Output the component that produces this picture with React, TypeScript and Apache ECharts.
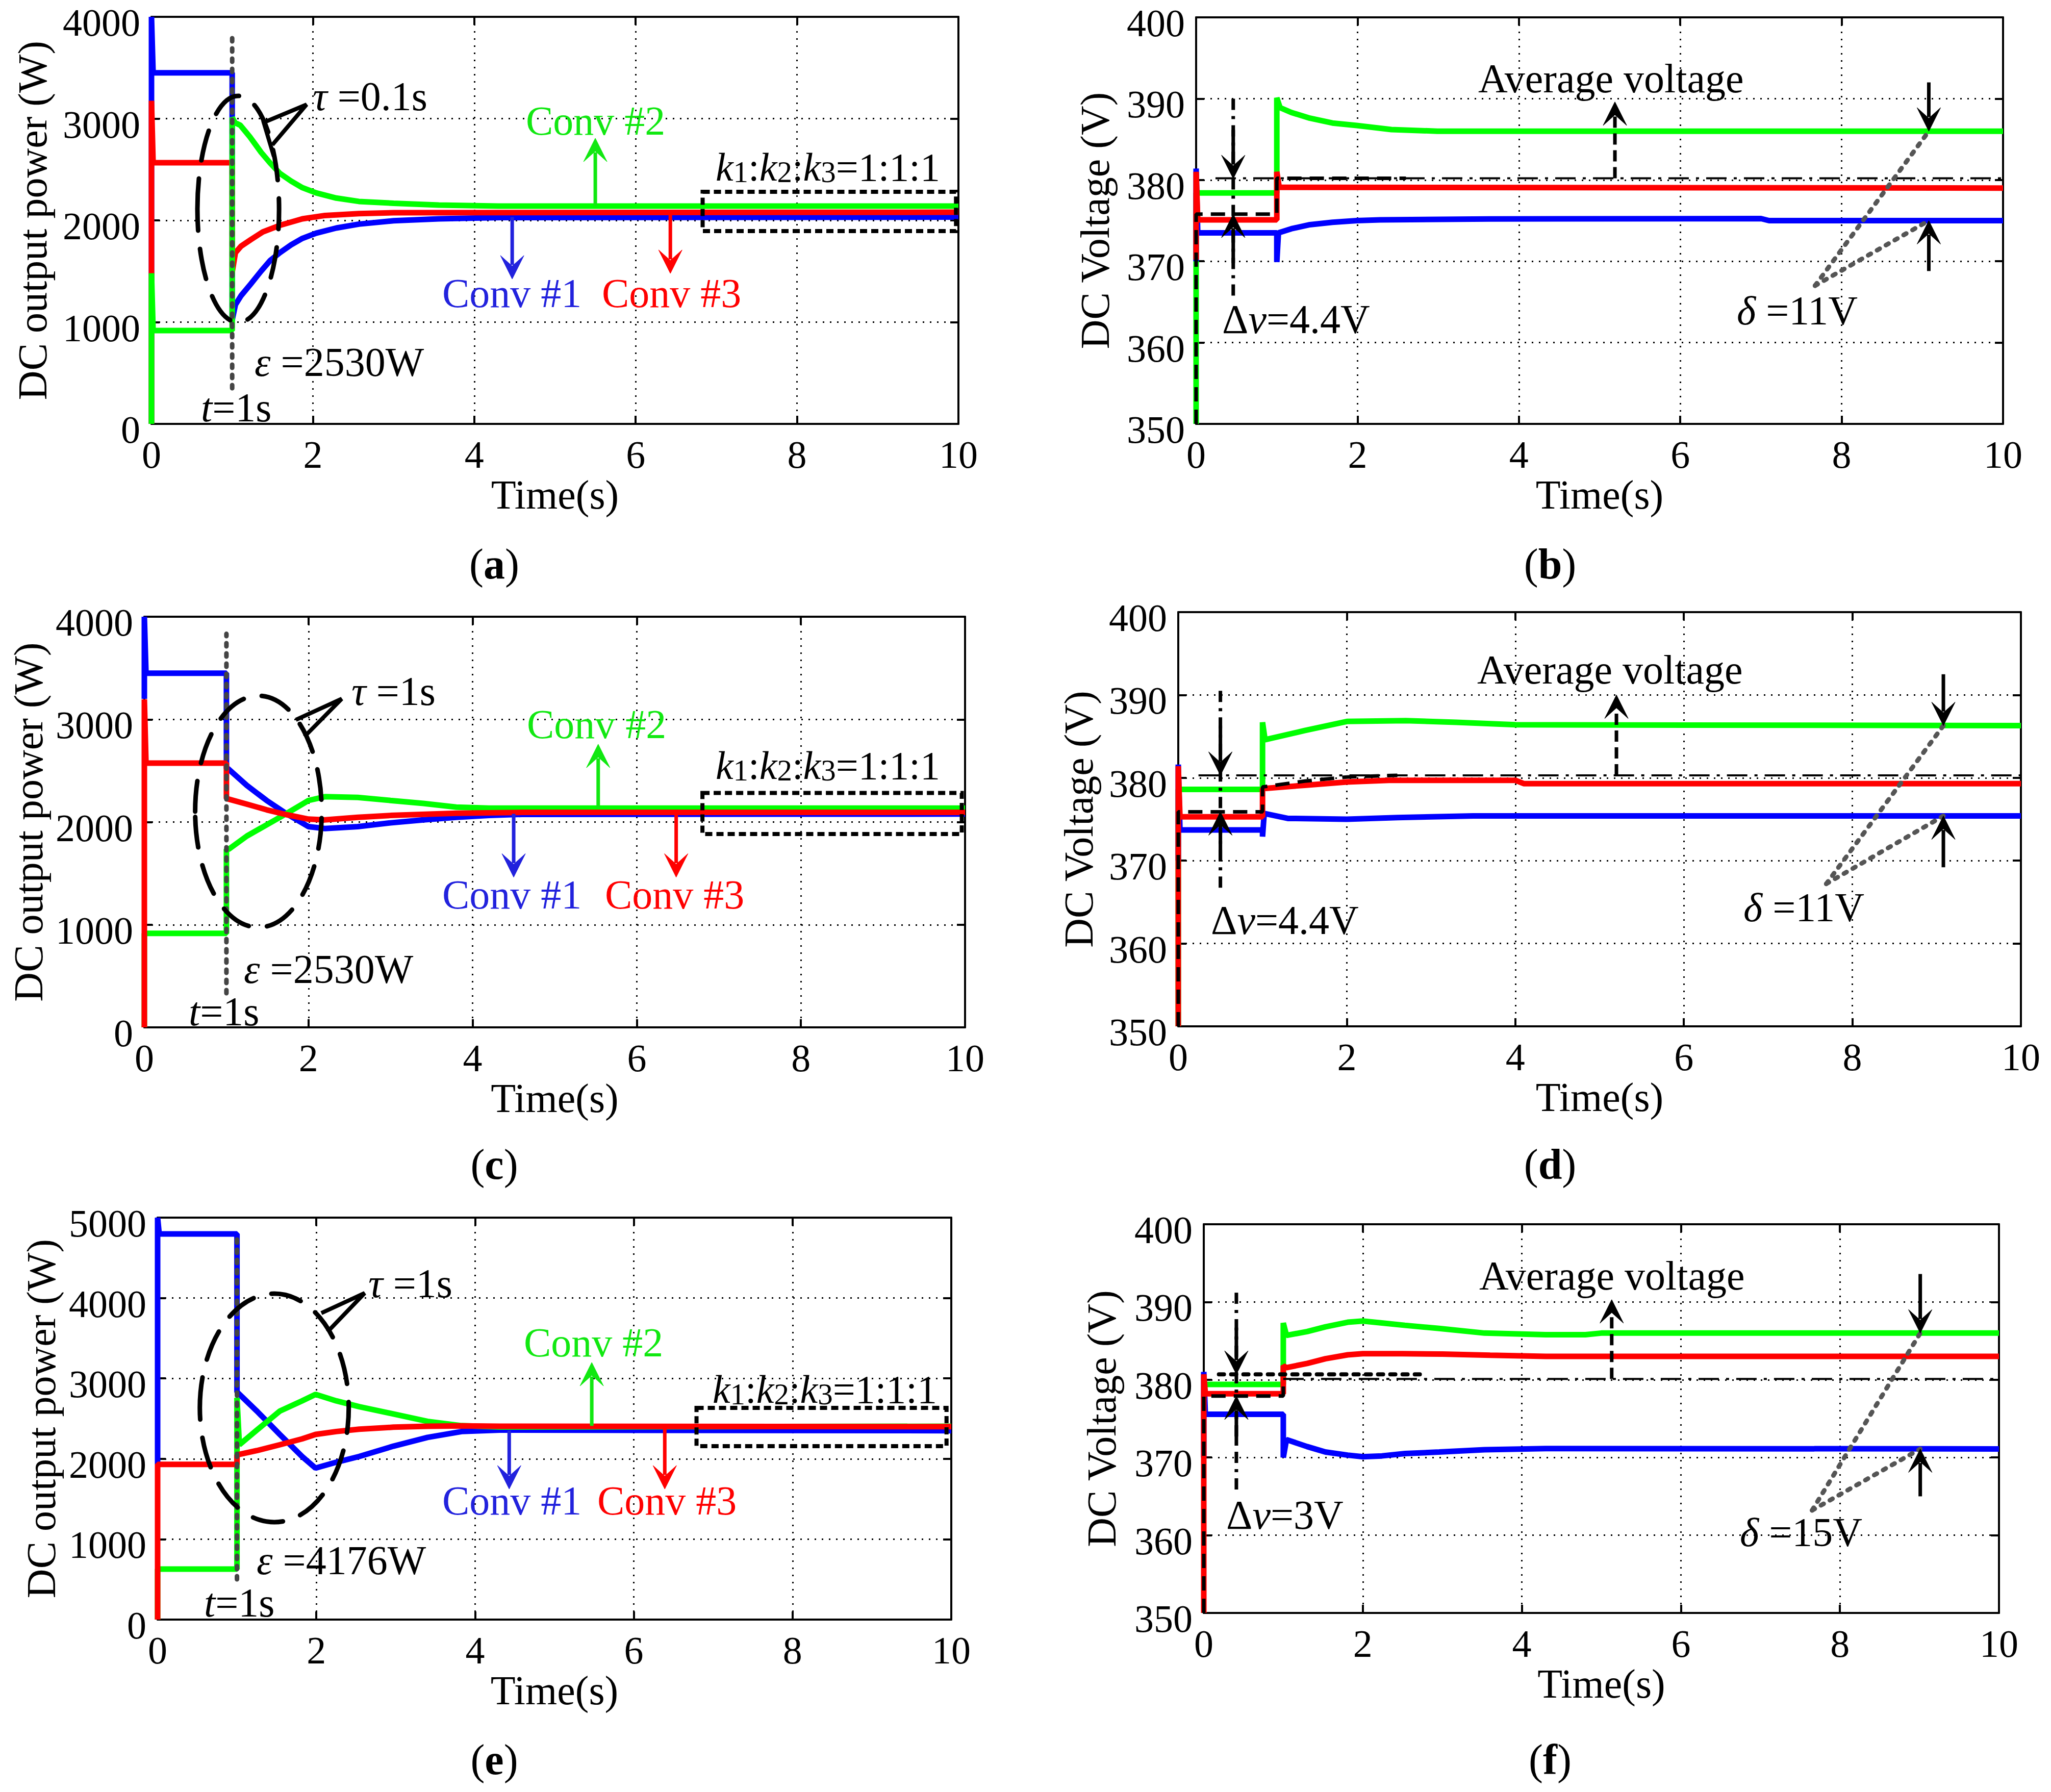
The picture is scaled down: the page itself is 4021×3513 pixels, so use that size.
import React, { useEffect, useRef } from "react";
import * as echarts from "echarts";

type Pt = [number, number];

// ---------- axis ranges: [min, max, step] ----------
const timeRange = [0, 10, 2];
const powerRangeA = [0, 4000, 1000];
const powerRangeE = [0, 5000, 1000];
const voltRange = [350, 400, 10];

// ---------- panel (a): DC output power, tau = 0.1 s ----------
const aConv1: Pt[] = [[0, 0], [0, 4000], [0.02, 3450], [1, 3450], [1, 1020], [1.04, 1171], [1.11, 1260], [1.23, 1375], [1.36, 1503], [1.47, 1605], [1.59, 1682], [1.73, 1759], [1.87, 1823], [2.04, 1874], [2.29, 1925], [2.57, 1963], [3.0, 1996], [3.56, 2015], [4.32, 2028], [10, 2032]];
const aConv2: Pt[] = [[0, 0], [0, 1480], [0.02, 917], [1, 917], [1, 3010], [1.035, 2960], [1.1, 2935], [1.22, 2820], [1.36, 2667], [1.47, 2564], [1.59, 2462], [1.73, 2386], [1.87, 2321], [2.04, 2270], [2.29, 2219], [2.57, 2186], [3.0, 2168], [3.56, 2150], [4.3, 2140], [10, 2140]];
const aConv3: Pt[] = [[0, 0], [0, 3175], [0.02, 2566], [1, 2566], [1, 1490], [1.04, 1682], [1.11, 1746], [1.23, 1810], [1.38, 1887], [1.59, 1951], [1.87, 2015], [2.15, 2048], [2.57, 2066], [3.0, 2075], [10, 2080]];

// ---------- panel (b): DC voltage, tau = 0.1 s ----------
const bConv1: Pt[] = [[0, 370], [0, 381.4], [0.02, 373.5], [1, 373.5], [1, 369.9], [1.02, 373.5], [1.18, 374.0], [1.41, 374.5], [1.69, 374.8], [1.99, 375.0], [2.28, 375.1], [3.63, 375.2], [7.0, 375.25], [7.1, 375.0], [10, 375.0]];
const bConv2: Pt[] = [[0, 350], [0, 378.4], [1, 378.4], [1, 390.1], [1.04, 388.9], [1.18, 388.3], [1.41, 387.6], [1.69, 387.0], [1.99, 386.7], [2.42, 386.2], [2.99, 386.0], [10, 386.0]];
const bConv3: Pt[] = [[0, 370.2], [0, 381], [0.02, 375.1], [1, 375.1], [1, 381], [1.03, 379.1], [10, 379.0]];
const bAvg: Pt[] = [[0, 350], [0, 375.8], [1, 375.8], [1, 380.2], [2.6, 380.2]];
const bRef: Pt[] = [[0.24, 380.2], [10, 380.2]];

// ---------- panel (c): DC output power, tau = 1 s ----------
const cConv1: Pt[] = [[0, 3200], [0, 4000], [0.02, 3450], [1, 3450], [1, 2520], [1.02, 2520], [1.25, 2356], [1.49, 2210], [1.73, 2082], [2.0, 1955], [2.2, 1937], [2.6, 1955], [3.0, 1992], [3.4, 2021], [3.8, 2046], [4.2, 2064], [4.6, 2075], [10, 2078]];
const cConv2: Pt[] = [[0, 0], [0, 916], [1, 916], [1, 1736], [1.03, 1736], [1.25, 1864], [1.49, 1973], [1.73, 2082], [2.0, 2210], [2.2, 2247], [2.6, 2240], [3.0, 2210], [3.4, 2181], [3.8, 2145], [4.2, 2135], [10, 2135]];
const cConv3: Pt[] = [[0, 0], [0, 3195], [0.02, 2574], [1, 2574], [1, 2229], [1.25, 2174], [1.49, 2119], [1.73, 2072], [2.0, 2028], [2.2, 2021], [2.6, 2046], [3.0, 2064], [3.8, 2086], [4.6, 2094], [10, 2095]];

// ---------- panel (d): DC voltage, tau = 1 s ----------
const dConv1: Pt[] = [[0, 370], [0, 381.6], [0.02, 373.7], [1, 373.7], [1, 372.9], [1.02, 375.7], [1.3, 375.1], [2.0, 375.0], [2.6, 375.2], [3.5, 375.4], [10, 375.4]];
const dConv2: Pt[] = [[0, 350], [0, 378.6], [1, 378.6], [1, 386.7], [1.03, 384.6], [1.5, 385.7], [2.0, 386.8], [2.7, 386.9], [3.3, 386.7], [4.0, 386.4], [10, 386.3]];
const dConv3: Pt[] = [[0, 350], [0, 381.4], [0.02, 375.3], [1, 375.3], [1, 378.7], [1.5, 379.1], [2.0, 379.5], [2.5, 379.7], [4.0, 379.7], [4.1, 379.3], [10, 379.3]];
const dAvg: Pt[] = [[0, 350], [0, 375.9], [1, 375.9], [1, 378.9], [1.5, 379.6], [2.0, 380.1], [2.6, 380.3]];
const dRef: Pt[] = [[0.24, 380.3], [10, 380.3]];

// ---------- panel (e): DC output power, higher load ----------
const eConv1: Pt[] = [[0, 1930], [0, 5000], [0.02, 4797], [1, 4797], [1, 2831], [1.25, 2594], [1.54, 2303], [1.82, 2029], [1.99, 1884], [2.25, 1957], [2.54, 2029], [2.97, 2157], [3.4, 2266], [3.83, 2339], [4.31, 2357], [10, 2350]];
const eConv2: Pt[] = [[0, 0], [0, 628], [1, 628], [1, 2758], [1.03, 2175], [1.25, 2357], [1.54, 2594], [1.82, 2721], [1.99, 2801], [2.25, 2721], [2.54, 2648], [2.97, 2558], [3.4, 2466], [3.83, 2412], [4.31, 2395], [10, 2405]];
const eConv3: Pt[] = [[0, 0], [0, 1930], [1, 1930], [1, 2048], [1.25, 2102], [1.54, 2175], [1.82, 2248], [1.99, 2303], [2.25, 2339], [2.54, 2368], [2.97, 2393], [3.4, 2405], [3.83, 2409], [4.31, 2405], [10, 2400]];

// ---------- panel (f): DC voltage, higher load ----------
const fConv1: Pt[] = [[0, 370], [0, 381], [0.02, 375.55], [1, 375.55], [1, 370.0], [1.04, 372.3], [1.3, 371.4], [1.53, 370.7], [1.81, 370.3], [2.0, 370.1], [2.24, 370.2], [2.53, 370.5], [2.96, 370.7], [3.53, 371.0], [4.3, 371.15], [10, 371.1]];
const fConv2: Pt[] = [[0, 379.4], [1, 379.4], [1, 387.3], [1.04, 385.7], [1.3, 386.2], [1.53, 386.8], [1.81, 387.4], [2.0, 387.55], [2.24, 387.3], [2.53, 387.0], [2.96, 386.6], [3.53, 386.0], [4.3, 385.8], [4.8, 385.8], [5.0, 386.0], [10, 386.0]];
const fConv3: Pt[] = [[0, 350], [0, 380.7], [0.02, 378.2], [1, 378.2], [1, 381.8], [1.04, 381.55], [1.3, 382.1], [1.53, 382.7], [1.81, 383.2], [2.0, 383.35], [2.5, 383.35], [3.0, 383.3], [3.6, 383.15], [4.3, 383.0], [10, 383.0]];
const fAvg: Pt[] = [[0, 350], [0, 377.9], [1, 377.9], [1, 380.1]];
const fRef: Pt[] = [[1, 380.1], [10, 380.1]];
const fDot: Pt[] = [[0.19, 380.7], [2.73, 380.7]];

// ---------- styling / layout ----------
const FONT = '"Liberation Serif", "Times New Roman", Times, serif';
const BLUE = "#0000ff";
const RED = "#ff0000";
const GREEN = "#00ff00";
const BLUE_T = "#2222dd";
const GREEN_T = "#11e811";

const GRIDS = [
  { left: 297, top: 33, width: 1582, height: 798 },
  { left: 2345, top: 34, width: 1582, height: 797 },
  { left: 283, top: 1209, width: 1609, height: 805 },
  { left: 2310, top: 1200, width: 1652, height: 812 },
  { left: 309, top: 2387, width: 1556, height: 788 },
  { left: 2360, top: 2400, width: 1559, height: 762 },
];
const Y_NAME_GAP = [193, 158, 187, 155, 188, 160];
const X_NAME_GAP = [79, 83, 77, 89, 82, 87];

type SeriesSpec = { data: Pt[]; color: string; width: number; dash?: any; cap?: string };

function buildOption() {
  const yRanges = [powerRangeA, voltRange, powerRangeA, voltRange, powerRangeE, voltRange];
  const yNames = ["DC output power (W)", "DC Voltage (V)", "DC output power (W)", "DC Voltage (V)", "DC output power (W)", "DC Voltage (V)"];
  const AVG = { color: "#000", width: 7, dash: [28, 16] };
  const REF = { color: "#000", width: 4, dash: [40, 14, 6, 14] };
  const panelSeries: SeriesSpec[][] = [
    [{ data: aConv1, color: BLUE, width: 11 }, { data: aConv3, color: RED, width: 11 }, { data: aConv2, color: GREEN, width: 11 }],
    [{ data: bConv2, color: GREEN, width: 11 }, { data: bConv1, color: BLUE, width: 11 }, { data: bConv3, color: RED, width: 11 }, { data: bRef, ...REF }, { data: bAvg, ...AVG }],
    [{ data: cConv1, color: BLUE, width: 11 }, { data: cConv2, color: GREEN, width: 11 }, { data: cConv3, color: RED, width: 11 }],
    [{ data: dConv2, color: GREEN, width: 11 }, { data: dConv1, color: BLUE, width: 11 }, { data: dConv3, color: RED, width: 11 }, { data: dRef, ...REF }, { data: dAvg, ...AVG }],
    [{ data: eConv1, color: BLUE, width: 11 }, { data: eConv2, color: GREEN, width: 11 }, { data: eConv3, color: RED, width: 11 }],
    [{ data: fConv2, color: GREEN, width: 11 }, { data: fConv1, color: BLUE, width: 11 }, { data: fConv3, color: RED, width: 11 }, { data: fRef, ...REF }, { data: fAvg, ...AVG }, { data: fDot, color: "#000", width: 8, dash: [10, 14], cap: "round" }],
  ];

  const grid: any[] = [];
  const xAxis: any[] = [];
  const yAxis: any[] = [];
  const series: any[] = [];
  const axisLine = { show: true, onZero: false, lineStyle: { color: "#000", width: 4 } };
  const tick = { show: true, inside: true, length: 16, lineStyle: { color: "#000", width: 4 } };
  const split = { show: true, lineStyle: { color: "#000", width: 3, type: [3, 11] } };
  const labelStyle = { color: "#000", fontFamily: FONT, fontSize: 76, formatter: (v: number) => String(v) };

  GRIDS.forEach((g, i) => {
    grid.push({ ...g, show: false, containLabel: false, outerBoundsMode: "none" });
    xAxis.push({
      type: "value", gridIndex: i, position: "bottom", min: timeRange[0], max: timeRange[1], interval: timeRange[2],
      axisLine, axisTick: tick, splitLine: split, axisLabel: { ...labelStyle, margin: 22 },
      name: "Time(s)", nameLocation: "middle", nameGap: X_NAME_GAP[i],
      nameTextStyle: { color: "#000", fontFamily: FONT, fontSize: 80 },
    });
    xAxis.push({
      type: "value", gridIndex: i, position: "top", min: timeRange[0], max: timeRange[1], interval: timeRange[2],
      axisLine, axisTick: tick, splitLine: { show: false }, axisLabel: { show: false },
    });
    const yr = yRanges[i];
    yAxis.push({
      type: "value", gridIndex: i, position: "left", min: yr[0], max: yr[1], interval: yr[2],
      axisLine, axisTick: tick, splitLine: split,
      axisLabel: {
        color: "#000", fontFamily: FONT, fontSize: 76, margin: 22,
        formatter: (v: number) => "{v|" + String(v) + "}",
        rich: { v: { color: "#000", fontFamily: FONT, fontSize: 76, padding: [22, 0, 0, 0] } },
      },
      name: yNames[i], nameLocation: "middle", nameRotate: 90, nameGap: Y_NAME_GAP[i],
      nameTextStyle: { color: "#000", fontFamily: FONT, fontSize: 80 },
    });
    yAxis.push({
      type: "value", gridIndex: i, position: "right", min: yr[0], max: yr[1], interval: yr[2],
      axisLine, axisTick: tick, splitLine: { show: false }, axisLabel: { show: false },
    });
    panelSeries[i].forEach((s, k) => {
      series.push({
        type: "line", xAxisIndex: 2 * i, yAxisIndex: 2 * i, data: s.data,
        showSymbol: false, symbol: "none", clip: false, silent: true, z: 3 + k,
        lineStyle: { color: s.color, width: s.width, type: s.dash || "solid", cap: s.cap || "butt" },
      });
    });
  });

  return {
    animation: false,
    backgroundColor: "#ffffff",
    textStyle: { fontFamily: FONT },
    grid, xAxis, yAxis, series,
  };
}

type PX = (g: number, t: number, v: number) => number[];

function richFor(fill: string, size: number) {
  return {
    i: { fontStyle: "italic", fontFamily: FONT, fontSize: size, fill },
    b: { fontWeight: "bold", fontFamily: FONT, fontSize: size, fill },
    s: { fontFamily: FONT, fontSize: Math.round(size * 0.75), fill, verticalAlign: "bottom" },
  };
}

function text(x: number, y: number, str: string, fill = "#000", align = "left", size = 80) {
  return {
    type: "text", z: 120, silent: true, x, y,
    style: {
      text: str, fill, fontSize: size, fontFamily: FONT,
      align, verticalAlign: "middle", textAlign: align, textVerticalAlign: "middle",
      rich: richFor(fill, size),
    },
  };
}

function seg(p1: number[], p2: number[], stroke: string, lineWidth: number, lineDash?: number[], lineCap = "butt") {
  return {
    type: "line", z: 100, silent: true,
    shape: { x1: p1[0], y1: p1[1], x2: p2[0], y2: p2[1] },
    style: { stroke, lineWidth, lineDash: lineDash || null, lineCap },
  };
}

const HEAD_W = 46;
const HEAD_L = 46;

function head(x: number, yTip: number, dir: number, fill: string) {
  const yb = yTip - dir * HEAD_L;
  const yn = yTip - dir * HEAD_L * 0.55;
  return {
    type: "polygon", z: 110, silent: true,
    shape: { points: [[x, yTip], [x - HEAD_W / 2, yb], [x, yn], [x + HEAD_W / 2, yb]] },
    style: { fill, stroke: fill, lineWidth: 1 },
  };
}

function arrow(px: PX, g: number, t: number, vFrom: number, vTip: number, color: string, dash?: number[]) {
  const a = px(g, t, vFrom);
  const b = px(g, t, vTip);
  const dir = b[1] > a[1] ? 1 : -1;
  const yn = b[1] - dir * HEAD_L * 0.6;
  return [seg([a[0], a[1]], [b[0], yn], color, 7, dash), head(b[0], b[1], dir, color)];
}

function ellipse(px: PX, g: number, t: number, v: number, dt: number, dv: number) {
  const c = px(g, t, v);
  const r1 = px(g, t + dt, v);
  const r2 = px(g, t, v + dv);
  return {
    type: "ellipse", z: 100, silent: true,
    shape: { cx: c[0], cy: c[1], rx: Math.abs(r1[0] - c[0]), ry: Math.abs(c[1] - r2[1]) },
    style: { fill: "none", stroke: "#000", lineWidth: 9, lineDash: [60, 36], lineCap: "round" },
  };
}

function poly(px: PX, g: number, pts: Pt[]) {
  return {
    type: "polyline", z: 100, silent: true,
    shape: { points: pts.map((p) => px(g, p[0], p[1])) },
    style: { fill: "none", stroke: "#000", lineWidth: 8, lineJoin: "miter" },
  };
}

function box(px: PX, g: number, t1: number, t2: number, v1: number, v2: number) {
  const a = px(g, t1, v2);
  const b = px(g, t2, v1);
  return {
    type: "rect", z: 100, silent: true,
    shape: { x: a[0], y: a[1], width: b[0] - a[0], height: b[1] - a[1] },
    style: { fill: "none", stroke: "#000", lineWidth: 8, lineDash: [14, 8] },
  };
}

const GRAY_DOT = [6, 14];

function powerPanel(px: PX, g: number, p: any) {
  const els: any[] = [];
  els.push(seg(px(g, 1, p.vLine[0]), px(g, 1, p.vLine[1]), "#444444", 9, GRAY_DOT, "round"));
  els.push(ellipse(px, g, p.ell[0], p.ell[1], p.ell[2], p.ell[3]));
  els.push(poly(px, g, p.callout));
  els.push(...arrow(px, g, p.a2[0], p.a2[1], p.a2[2], GREEN_T));
  els.push(...arrow(px, g, p.a1[0], p.a1[1], p.a1[2], BLUE_T));
  els.push(...arrow(px, g, p.a3[0], p.a3[1], p.a3[2], RED));
  els.push(box(px, g, p.box[0], p.box[1], p.box[2], p.box[3]));
  const T = p.txt;
  els.push(text(T.tau[0], T.tau[1], p.tauText));
  els.push(text(T.eps[0], T.eps[1], p.epsText));
  els.push(text(T.t1[0], T.t1[1], "{i|t}=1s"));
  els.push(text(T.c2[0], T.c2[1], "Conv #2", GREEN_T));
  els.push(text(T.c1[0], T.c1[1], "Conv #1", BLUE_T));
  els.push(text(T.c3[0], T.c3[1], "Conv #3", RED));
  els.push(text(T.k[0], T.k[1], "{i|k}{s|1}:{i|k}{s|2}:{i|k}{s|3}=1:1:1", "#000", "left", 78));
  els.push(text(T.lab[0], T.lab[1], p.lab, "#000", "center", 84));
  return els;
}

function voltPanel(px: PX, g: number, p: any) {
  const els: any[] = [];
  // average-voltage arrow
  els.push(...arrow(px, g, p.avgArrow[0], p.avgArrow[1], p.avgArrow[2], "#000", [22, 11]));
  // delta-v marker
  const [t, vTop, vBot, vHi, vLo] = p.dv;
  els.push(seg(px(g, t, vTop), px(g, t, vBot), "#000", 7, [22, 12, 6, 12]));
  els.push(...arrow(px, g, t, vHi + 6, vHi, "#000"));
  els.push(...arrow(px, g, t, vLo - 6, vLo, "#000"));
  // delta arrows
  const [td, dTop, dHi, dBot, dLo, tS, vS] = p.delta;
  els.push(...arrow(px, g, td, dTop, dHi, "#000"));
  els.push(...arrow(px, g, td, dBot, dLo, "#000"));
  els.push(seg(px(g, tS, vS), px(g, td, dHi), "#555555", 9, GRAY_DOT, "round"));
  els.push(seg(px(g, tS, vS), px(g, td, dLo), "#555555", 9, GRAY_DOT, "round"));
  const T = p.txt;
  els.push(text(T.avg[0], T.avg[1], "Average voltage"));
  els.push(text(T.dv[0], T.dv[1], p.dvText));
  els.push(text(T.delta[0], T.delta[1], p.deltaText));
  els.push(text(T.lab[0], T.lab[1], p.lab, "#000", "center", 84));
  return els;
}

function buildGraphics(px: PX) {
  const els: any[] = [];
  els.push(...powerPanel(px, 0, {
    vLine: [351, 3805], ell: [1.075, 2110, 0.506, 1113],
    callout: [[1.517, 2627], [1.391, 2962], [1.922, 3138], [1.498, 2742]],
    a2: [5.5, 2140, 2807], a1: [4.47, 2032, 1424], a3: [6.43, 2080, 1479],
    box: [6.83, 9.97, 1895, 2281],
    tauText: "{i|τ} =0.1s", epsText: "{i|ε} =2530W", lab: "({b|a})",
    txt: { tau: [613, 189], eps: [499, 710], t1: [394, 799], c2: [1031, 237], c1: [867, 575], c3: [1180, 575], k: [1403, 327], lab: [969, 1105] },
  }));
  els.push(...voltPanel(px, 1, {
    avgArrow: [5.19, 380.2, 389.6],
    dv: [0.46, 390, 365.2, 380.16, 375.8],
    delta: [9.08, 392, 386.0, 368.8, 375.0, 7.67, 367.0],
    dvText: "Δ{i|v}=4.4V", deltaText: "{i|δ} =11V", lab: "({b|b})",
    txt: { avg: [2898, 154], dv: [2396, 626], delta: [3405, 609], lab: [3039, 1105] },
  }));
  els.push(...powerPanel(px, 2, {
    vLine: [333, 3833], ell: [1.39, 2102, 0.771, 1128],
    callout: [[1.846, 2996], [2.405, 3200], [1.951, 2832]],
    a2: [5.53, 2135, 2758], a1: [4.5, 2080, 1463], a3: [6.48, 2095, 1463],
    box: [6.8, 9.96, 1883, 2283],
    tauText: "{i|τ} =1s", epsText: "{i|ε} =2530W", lab: "({b|c})",
    txt: { tau: [689, 1355], eps: [478, 1900], t1: [370, 1983], c2: [1033, 1420], c1: [867, 1754], c3: [1186, 1754], k: [1403, 1500], lab: [969, 2282] },
  }));
  els.push(...voltPanel(px, 3, {
    avgArrow: [5.2, 380.3, 390],
    dv: [0.5, 390.5, 366.0, 380.3, 375.9],
    delta: [9.08, 392.5, 386.3, 369.2, 375.4, 7.69, 367.2],
    dvText: "Δ{i|v}=4.4V", deltaText: "{i|δ} =11V", lab: "({b|d})",
    txt: { avg: [2896, 1313], dv: [2374, 1804], delta: [3418, 1779], lab: [3039, 2282] },
  }));
  els.push(...powerPanel(px, 4, {
    vLine: [501, 4797], ell: [1.47, 2633, 0.938, 1421],
    callout: [[2.063, 3813], [2.609, 4061], [2.14, 3579]],
    a2: [5.47, 2410, 3198], a1: [4.43, 2350, 1624], a3: [6.39, 2398, 1624],
    box: [6.79, 9.94, 2157, 2633],
    tauText: "{i|τ} =1s", epsText: "{i|ε} =4176W", lab: "({b|e})",
    txt: { tau: [722, 2516], eps: [503, 3059], t1: [400, 3142], c2: [1027, 2632], c1: [867, 2942], c3: [1171, 2942], k: [1397, 2723], lab: [969, 3449] },
  }));
  els.push(...voltPanel(px, 5, {
    avgArrow: [5.13, 380.1, 390.3],
    dv: [0.41, 391.2, 365.3, 380.7, 377.9],
    delta: [9.01, 393.6, 386.0, 365.0, 371.1, 7.65, 363.2],
    dvText: "Δ{i|v}=3V", deltaText: "{i|δ} =15V", lab: "({b|f})",
    txt: { avg: [2900, 2501], dv: [2404, 2970], delta: [3411, 3004], lab: [3039, 3449] },
  }));
  return els;
}

export default function App() {
  const ref = useRef<HTMLDivElement>(null);
  useEffect(() => {
    const el = ref.current;
    if (!el) return;
    const chart = echarts.init(el, null, { renderer: "svg" });
    chart.setOption(buildOption() as any);
    const px: PX = (g, t, v) =>
      chart.convertToPixel({ xAxisIndex: 2 * g, yAxisIndex: 2 * g } as any, [t, v]) as unknown as number[];
    chart.setOption({ graphic: buildGraphics(px) } as any);
    return () => chart.dispose();
  }, []);
  return (
    <div
      ref={ref}
      style={{ position: "absolute", left: 0, top: 0, width: 4021, height: 3513, background: "#fff" }}
    />
  );
}
